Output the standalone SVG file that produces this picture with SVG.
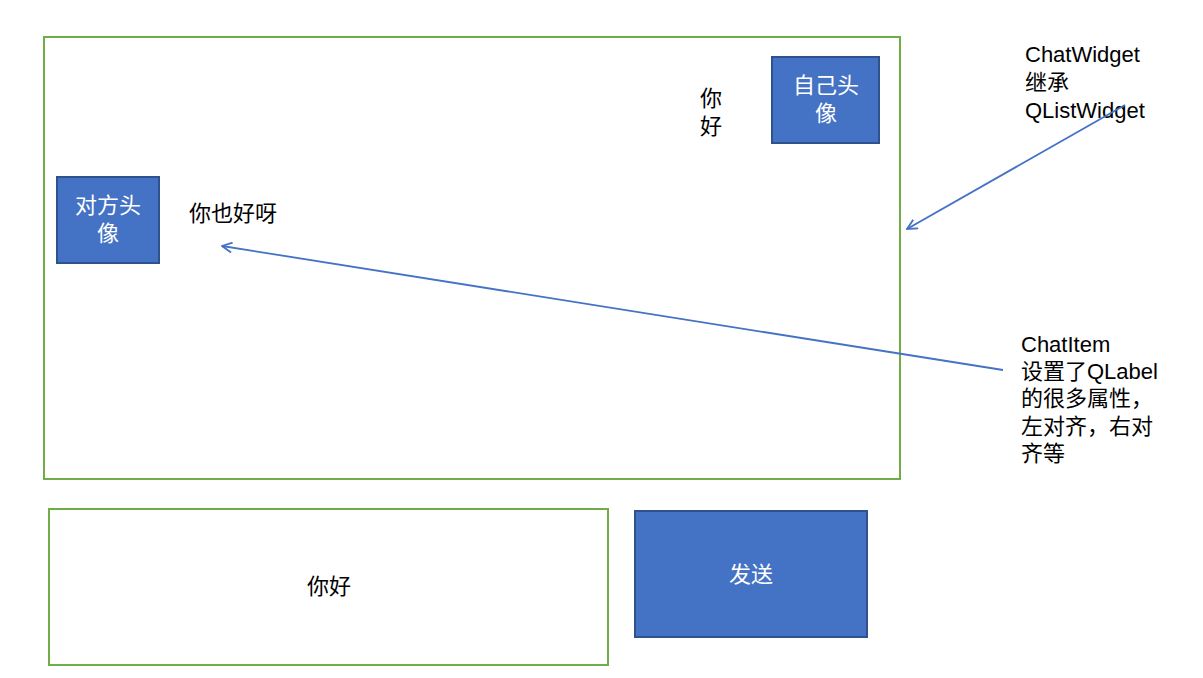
<svg xmlns="http://www.w3.org/2000/svg" width="1203" height="678" viewBox="0 0 1203 678">
<defs>
<style>
.frame{fill:#fff;stroke:#70AD47;stroke-width:2}
.btn{fill:#4472C4;stroke:#2F528F;stroke-width:2}
.t{font-family:"Liberation Sans","Noto Sans CJK SC",sans-serif;font-size:22px;fill:#000}
.w{font-family:"Liberation Sans","Noto Sans CJK SC",sans-serif;font-size:22px;fill:#fff;text-anchor:middle}
.c{stroke:#4472C4;stroke-width:1.8;fill:none}
</style>
<marker id="arr" viewBox="0 0 12 12" refX="11" refY="6" markerWidth="12" markerHeight="12" markerUnits="userSpaceOnUse" orient="auto">
<path d="M1,1 L11,6 L1,11" fill="none" stroke="#4472C4" stroke-width="1.8"/>
</marker>
</defs>
<rect width="1203" height="678" fill="#fff"/>
<g id="chatwidget"><rect class="frame" x="44" y="37" width="856" height="442"/></g>
<g id="self-avatar"><rect class="btn" x="772" y="57" width="107" height="86"/>
<text class="w" x="826" y="93">自己头</text><text class="w" x="826" y="121">像</text></g>
<g id="self-msg"><text class="t" x="700" y="106">你</text><text class="t" x="700" y="134">好</text></g>
<g id="other-avatar"><rect class="btn" x="57" y="177" width="102" height="86"/>
<text class="w" x="108" y="213">对方头</text><text class="w" x="108" y="241">像</text></g>
<g id="other-msg"><text class="t" x="189" y="221">你也好呀</text></g>
<g id="input"><rect class="frame" x="49" y="509" width="559" height="156"/>
<text class="t" x="329" y="594" text-anchor="middle">你好</text></g>
<g id="send"><rect class="btn" x="635" y="511" width="232" height="126"/>
<text class="w" x="751" y="582">发送</text></g>
<g id="note-chatwidget"><text class="t" x="1025" y="62">ChatWidget</text><text class="t" x="1025" y="90">继承</text><text class="t" x="1025" y="118">QListWidget</text></g>
<g id="note-chatitem"><text class="t" x="1021" y="352">ChatItem</text><text class="t" x="1021" y="379">设置了QLabel</text><text class="t" x="1021" y="406">的很多属性，</text><text class="t" x="1021" y="434">左对齐，右对</text><text class="t" x="1021" y="461">齐等</text></g>
<g id="connectors">
<line class="c" x1="1125" y1="105" x2="907" y2="229" marker-end="url(#arr)"/>
<line class="c" x1="1003" y1="370" x2="222" y2="246" marker-end="url(#arr)"/>
</g>
</svg>
